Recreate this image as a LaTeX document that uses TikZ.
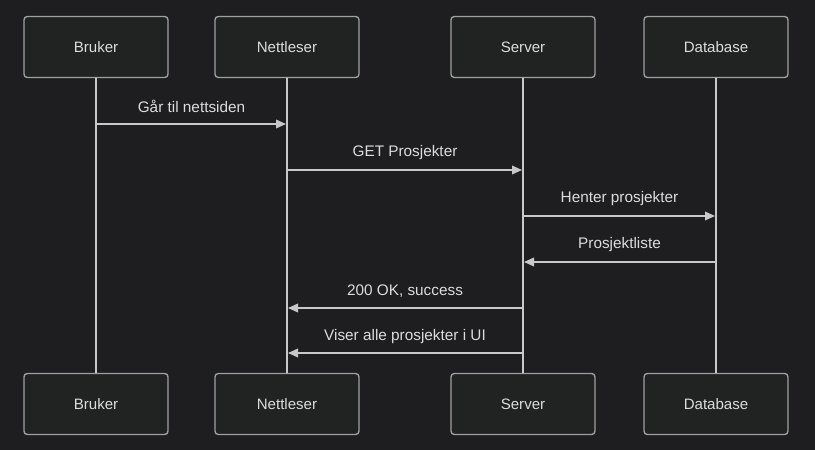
\documentclass[tikz,border=0pt]{standalone}
\usepackage{fontspec}
\setmainfont{Liberation Sans}
\usetikzlibrary{arrows.meta}
\definecolor{bg}{HTML}{1E1E21}
\definecolor{boxfill}{HTML}{212322}
\definecolor{boxline}{HTML}{A0A0A0}
\definecolor{txt}{HTML}{DCDCDC}
\definecolor{lline}{HTML}{C8C8C8}
\tikzset{
  actor/.style={draw=boxline, line width=1pt, fill=boxfill, rounded corners=2.5pt,
    minimum width=108pt, minimum height=45.75pt, inner sep=0pt,
    text=txt, font=\fontsize{11.3}{13}\selectfont},
  life/.style={draw=lline, line width=1.1pt},
  msg/.style={draw=lline, line width=1.1pt, -{Triangle[length=7.5pt,width=6.5pt]}},
  lbl/.style={text=txt, font=\fontsize{11.5}{13}\selectfont, inner sep=0pt}
}
\begin{document}
\begin{tikzpicture}[x=0.75pt,y=-0.75pt]
\fill[bg] (0,0) rectangle (815,450);
\useasboundingbox (0,0) rectangle (815,450);
% top boxes
\node[actor] (b1) at (96,47) {Bruker};
\node[actor] (n1) at (287,47) {Nettleser};
\node[actor] (s1) at (523,47) {Server};
\node[actor] (d1) at (716,47) {Database};
% bottom boxes
\node[actor] (b2) at (96,404) {Bruker};
\node[actor] (n2) at (287,404) {Nettleser};
\node[actor] (s2) at (523,404) {Server};
\node[actor] (d2) at (716,404) {Database};
% lifelines
\draw[life] (b1) -- (b2);
\draw[life] (n1) -- (n2);
\draw[life] (s1) -- (s2);
\draw[life] (d1) -- (d2);
% message anchors
\coordinate (m1a) at (96,124);  \coordinate (m1b) at (286,124);
\coordinate (m2a) at (287,170); \coordinate (m2b) at (522,170);
\coordinate (m3a) at (523,216); \coordinate (m3b) at (715,216);
\coordinate (m4a) at (716,262); \coordinate (m4b) at (524,262);
\coordinate (m5a) at (523,308); \coordinate (m5b) at (288,308);
\coordinate (m6a) at (523,353); \coordinate (m6b) at (288,353);
\draw[msg] (m1a) -- (m1b);
\draw[msg] (m2a) -- (m2b);
\draw[msg] (m3a) -- (m3b);
\draw[msg] (m4a) -- (m4b);
\draw[msg] (m5a) -- (m5b);
\draw[msg] (m6a) -- (m6b);
% labels
\node[lbl] (l1) at (191.5,106.5) {Går til nettsiden};
\node[lbl] (l2) at (405,153) {GET Prosjekter};
\node[lbl] (l3) at (619.5,199) {Henter prosjekter};
\node[lbl] (l4) at (619.5,245) {Prosjektliste};
\node[lbl] (l5) at (405,291) {200 OK, success};
\node[lbl] (l6) at (405,337) {Viser alle prosjekter i UI};
\end{tikzpicture}
\end{document}
